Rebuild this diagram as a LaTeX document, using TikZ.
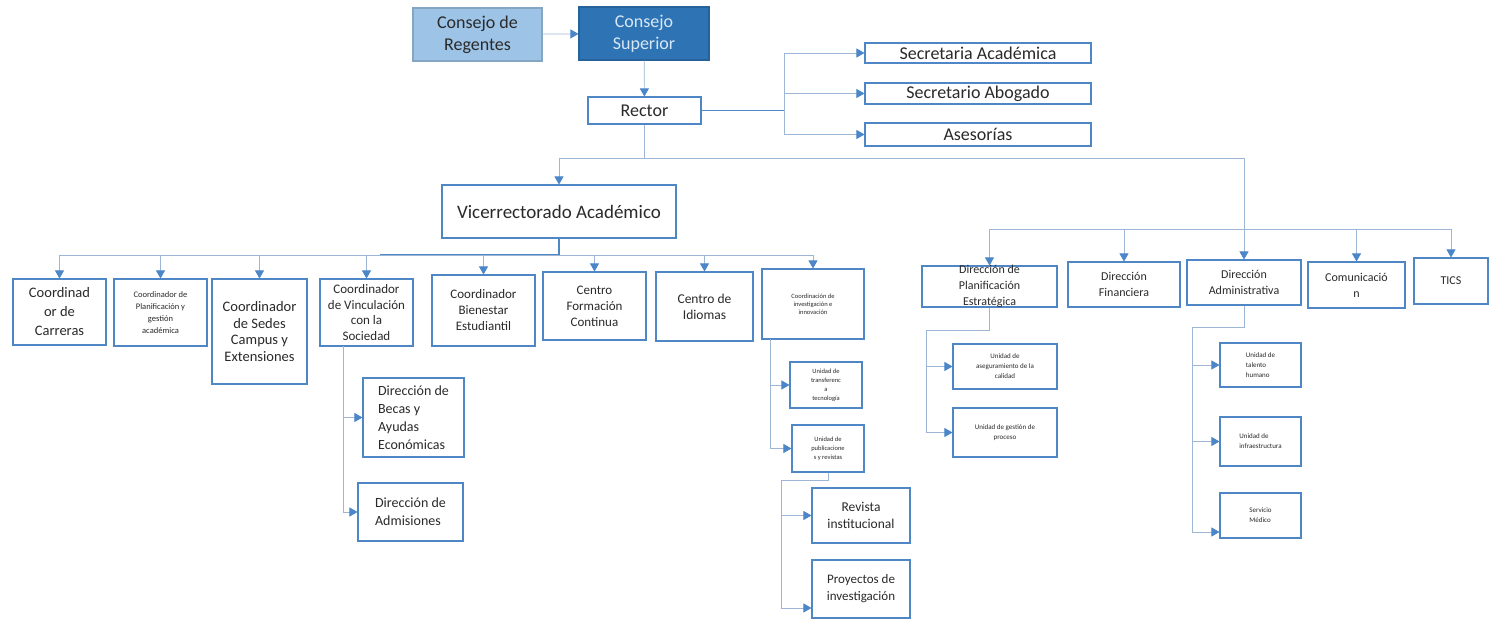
\documentclass[tikz,border=0pt]{standalone}
\usepackage{fontspec}
\setmainfont{Carlito}
\usetikzlibrary{arrows.meta}

\definecolor{boxblue}{HTML}{4F87C6}
\definecolor{linkblue}{HTML}{9DB6D6}
\definecolor{tipblue}{HTML}{4A86C8}
\definecolor{lightfill}{HTML}{9DC3E6}
\definecolor{darkfill}{HTML}{2E74B5}
\definecolor{inkgray}{HTML}{2A2A2A}
\newcommand{\fsz}[2]{\fontsize{#1}{#2}\selectfont}

\tikzset{
  box/.style={draw=boxblue, line width=1.1pt, fill=white, inner sep=1pt, align=center, text=inkgray},
  conn/.style={draw=linkblue, line width=0.7pt},
  arr/.style={conn, -{Triangle[length=8pt,width=9pt,color=tipblue]}},
  heavy/.style={draw=boxblue, line width=1.4pt},
}

\begin{document}
\begin{tikzpicture}[x=1pt,y=-1pt]
  % Page frame
  \fill[white] (0,0) rectangle (1491,620);
  \useasboundingbox (0,0) rectangle (1491,620);

  % Top of the chart
  \node[box, fill=lightfill, draw=lightfill!85!black, minimum width=129pt, minimum height=53pt, font=\fsz{18}{22}] (regentes) at (477.5,34.5) {Consejo de\\Regentes};
  \node[box, fill=darkfill, draw=darkfill!85!black, text=lightfill!40!white, minimum width=130pt, minimum height=53pt, font=\fsz{18}{22}] (superior) at (644,33.5) {Consejo\\Superior};
  \node[box, minimum width=113pt, minimum height=27pt, font=\fsz{18}{22}] (rector) at (644.5,110.5) {Rector};
  \node[box, minimum width=226pt, minimum height=20pt, inner sep=0pt, font=\fsz{18}{20}] (secacad) at (978,53) {Secretaria Académica};
  \node[box, minimum width=226pt, minimum height=21pt, inner sep=0pt, font=\fsz{18}{20}] (secabog) at (978,93.5) {Secretario Abogado};
  \node[box, minimum width=226pt, minimum height=23pt, inner sep=0pt, font=\fsz{18}{20}] (asesorias) at (978,134.5) {Asesorías};
  \node[box, minimum width=234pt, minimum height=53pt, font=\fsz{19}{23}] (vice) at (559,211.5) {Vicerrectorado Académico};

  % Academic branch
  \node[box, minimum width=93pt, minimum height=66pt, font=\fsz{14.5}{19}] (carreras) at (59.5,312) {Coordinad\\or de\\Carreras};
  \node[box, minimum width=93pt, minimum height=67pt, font=\fsz{8.5}{12}] (planif) at (160.5,312.5) {Coordinador de\\Planificación y\\gestión\\académica};
  \node[box, minimum width=95pt, minimum height=105pt, font=\fsz{14.5}{16.5}] (sedes) at (259.5,331.5) {Coordinador\\de Sedes\\Campus y\\Extensiones};
  \node[box, minimum width=93pt, minimum height=67pt, font=\fsz{13}{15.5}] (vinc) at (366.5,312.5) {Coordinador\\de Vinculación\\con la\\Sociedad};
  \node[box, minimum width=103pt, minimum height=71pt, font=\fsz{13}{16}] (bienestar) at (483.5,310.5) {Coordinador\\Bienestar\\Estudiantil};
  \node[box, minimum width=103pt, minimum height=68pt, font=\fsz{13}{16}] (formacion) at (594.5,306) {Centro\\Formación\\Continua};
  \node[box, minimum width=97pt, minimum height=69pt, font=\fsz{13.5}{16}] (idiomas) at (704.5,306.5) {Centro de\\Idiomas};
  \node[box, minimum width=102pt, minimum height=70pt, font=\fsz{6.5}{8}] (invest) at (813,304) {Coordinación de\\investigación e\\innovación};

  \node[box, align=left, minimum width=101pt, minimum height=79pt, font=\fsz{14}{18}] (becas) at (413.5,417.5) {Dirección de\\Becas y\\Ayudas\\Económicas};
  \node[box, align=left, minimum width=105pt, minimum height=58pt, font=\fsz{14}{18}] (admisiones) at (410.5,512) {Dirección de\\Admisiones};

  \node[box, minimum width=72pt, minimum height=46pt, font=\fsz{6.5}{9}] (transf) at (826,385) {Unidad de\\transferenc\\a\\tecnología};
  \node[box, minimum width=72pt, minimum height=47pt, font=\fsz{6.5}{9}] (public) at (828,448.5) {Unidad de\\publicacione\\s y revistas};
  \node[box, minimum width=98pt, minimum height=55pt, font=\fsz{13.5}{17}] (revista) at (861,515.5) {Revista\\institucional};
  \node[box, minimum width=98pt, minimum height=58pt, font=\fsz{13}{17}] (proyectos) at (861,589) {Proyectos de\\investigación};

  % Administrative branch
  \node[box, minimum width=135pt, minimum height=41pt,
        label={[font=\fsz{12}{16}, align=center, text=inkgray]center:Dirección de\\Planificación\\Estratégica}] (planest) at (989.5,286.5) {};
  \node[box, minimum width=112pt, minimum height=45pt, font=\fsz{12}{16}] (financiera) at (1124,284.5) {Dirección\\Financiera};
  \node[box, minimum width=114pt, minimum height=45pt, font=\fsz{12}{16}] (admin) at (1244,282.5) {Dirección\\Administrativa};
  \node[box, minimum width=97pt, minimum height=46pt, font=\fsz{12}{16}] (comunic) at (1356.5,285) {Comunicació\\n};
  \node[box, minimum width=74pt, minimum height=46pt, font=\fsz{12}{16}] (tics) at (1451,281) {TICS};

  \node[box, minimum width=104pt, minimum height=45pt, font=\fsz{7}{10}] (asegur) at (1005,366.5) {Unidad de\\aseguramiento de la\\calidad};
  \node[box, minimum width=104pt, minimum height=49pt, font=\fsz{7}{10}] (gestion) at (1005,432.5) {Unidad de gestión de\\proceso};
  \node[box, align=left, minimum width=81pt, minimum height=44pt, font=\fsz{7}{10}] (talento) at (1260.5,365) {Unidad de\\talento\\humano};
  \node[box, align=left, minimum width=81pt, minimum height=49pt, font=\fsz{7}{10}] (infra) at (1260.5,441.5) {Unidad de\\infraestructura};
  \node[box, align=left, minimum width=81pt, minimum height=45pt, font=\fsz{7}{10}] (servicio) at (1260.5,515.5) {Servicio\\Médico};

  % Bends of the connectors
  \coordinate (rsplit) at (784,110.5);
  \coordinate (rbus) at (644.5,158);
  \coordinate (vbus) at (559,255);
  \coordinate (vthick) at (380,255);
  \coordinate (dbusL) at (989.5,229);
  \coordinate (dbusR) at (1451,229);
  \coordinate (vinjog) at (343,346);
  \coordinate (invjog) at (770,339);
  \coordinate (pubjog) at (781,480);
  \coordinate (plnjog) at (926,330);
  \coordinate (admjog) at (1192,327);

  % Connectors
  \draw[arr] (regentes) -- (superior);
  \draw[arr] (superior) -- (rector);
  \draw[heavy] (rector.east) -- (rsplit);
  \foreach \n in {secacad,secabog,asesorias}
    \draw[arr] (rsplit) |- (\n.west);
  \draw[conn] (rector.south) -- (rbus);
  \draw[arr] (rbus) -| (vice.north);
  \draw[arr] (rbus) -| (admin.north);

  \draw[heavy] (vice.south) -- (vbus) -- (vthick);
  \draw[conn] (carreras.north |- vbus) -- (invest.north |- vbus);
  \foreach \n in {carreras,planif,sedes,vinc,bienestar,formacion,idiomas,invest}
    \draw[arr] (\n.north |- vbus) -- (\n.north);
  \draw[arr] (vinjog) |- (becas.west);
  \draw[arr] (vinjog) |- (admisiones.west);
  \draw[arr] (invjog) |- (transf.west);
  \draw[arr] (invjog) |- (public.west);
  \draw[conn] (public.south) |- (pubjog);
  \draw[arr] (pubjog) |- (revista.west);
  \draw[arr] (pubjog) |- ([yshift=-19pt]proyectos.west);

  \draw[conn] (dbusL) -- (dbusR);
  \foreach \n in {planest,financiera,comunic,tics}
    \draw[arr] (\n.north |- dbusL) -- (\n.north);
  \draw[conn] (planest.south) |- (plnjog);
  \draw[arr] (plnjog) |- (asegur.west);
  \draw[arr] (plnjog) |- (gestion.west);
  \draw[conn] (admin.south) |- (admjog);
  \draw[arr] (admjog) |- (talento.west);
  \draw[arr] (admjog) |- (infra.west);
  \draw[arr] (admjog) |- ([yshift=-16.5pt]servicio.west);
\end{tikzpicture}
\end{document}
